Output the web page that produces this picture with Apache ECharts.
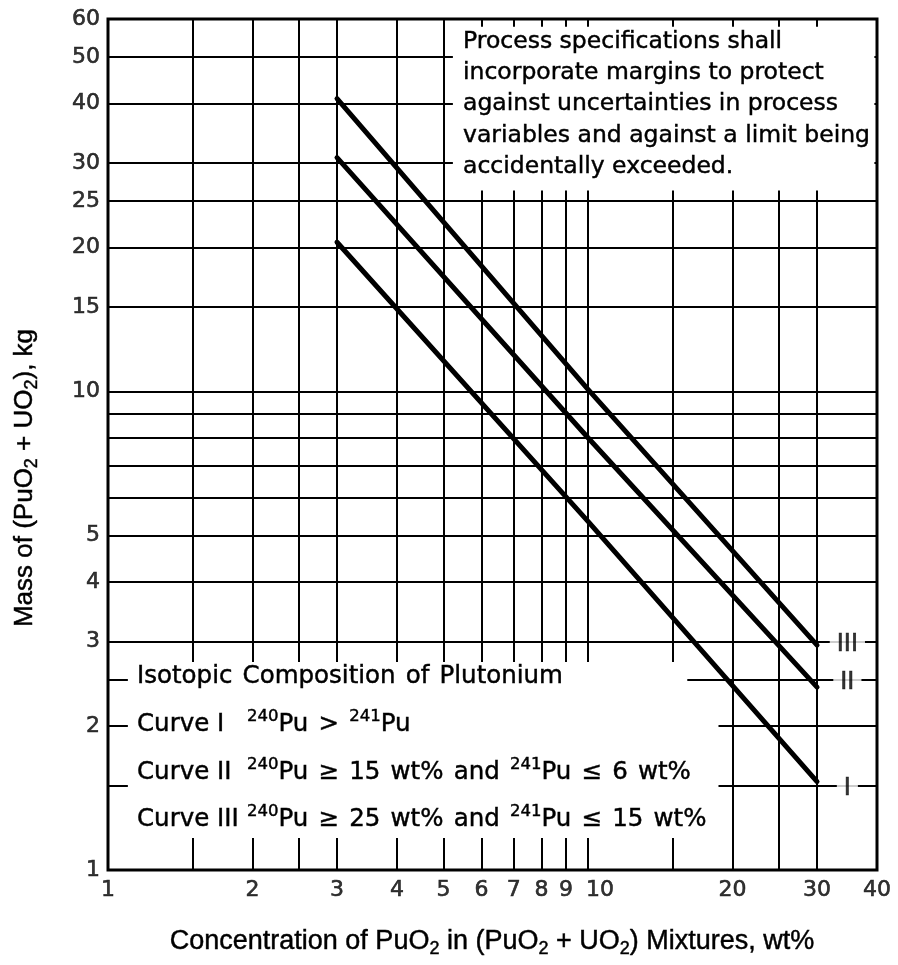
<!DOCTYPE html>
<html>
<head>
<meta charset="utf-8">
<script src="https://cdn.jsdelivr.net/npm/echarts@6/dist/echarts.min.js"></script>
<style>
  html, body { margin: 0; padding: 0; background: #fff; }
  #chart { width: 898px; height: 965px; }
</style>
</head>
<body>
<div id="chart"></div>
<script>
// PuO2 concentrations (wt%) at which the limit curves are read
const concentration = [3, 10, 30];
// Mass limits of (PuO2 + UO2), kg, for each isotopic composition
const curveI = [20.5, 5.35, 1.53];
const curveII = [30.8, 8.0, 2.41];
const curveIII = [40.9, 10.1, 2.95];
const curveNames = ['I', 'II', 'III'];
// grid line values on the log axes
const xGridValues = [1.5, 2, 2.5, 3, 4, 5, 6, 7, 8, 9, 10, 15, 20, 25, 30];
const yGridValues = [1.5, 2, 2.5, 3, 4, 5, 6, 7, 8, 9, 10, 15, 20, 25, 30, 40, 50];
// labelled tick values
const xTickLabels = [1, 2, 3, 4, 5, 6, 7, 8, 9, 10, 20, 30, 40];
const yTickLabels = [1, 2, 3, 4, 5, 10, 15, 20, 25, 30, 40, 50, 60];

const X_MIN = 1, X_MAX = 40, Y_MIN = 1, Y_MAX = 60;
const FONT = '"DejaVu Sans", "Liberation Sans", sans-serif';
const TITLE_FONT = '"Liberation Sans", "DejaVu Sans", sans-serif';
// a thin outline in the text colour gives the heavier print weight
const LABEL_INK = { textBorderColor: '#000', textBorderWidth: 0.6 };
const INK = { stroke: '#000', lineWidth: 0.45 };

// areas (in data units) kept free of grid lines so the notes stay readable
const clearRegions = [
  { x: [5.23, 39.5], y: [26.3, 57.8] },
  { x: [1.10, 16.1], y: [1.166, 2.72] },
  { x: [16.1, 18.7], y: [1.166, 2.3] }
];
// each curve label sits on the grid line next to its curve end
const curveLabelY = [1.5, 2.5, 3];

function cutRange(range, gaps) {
  let segs = [range];
  gaps.forEach(([c, d]) => {
    segs = segs.flatMap(([a, b]) => {
      if (d <= a || c >= b) return [[a, b]];
      const out = [];
      if (c > a) out.push([a, c]);
      if (d < b) out.push([d, b]);
      return out;
    });
  });
  return segs;
}

const gridSegments = [];
xGridValues.forEach(v => {
  const gaps = clearRegions.filter(r => v > r.x[0] && v < r.x[1]).map(r => r.y);
  cutRange([Y_MIN, Y_MAX], gaps).forEach(([a, b]) => gridSegments.push({ coords: [[v, a], [v, b]] }));
});
yGridValues.forEach(v => {
  const gaps = clearRegions.filter(r => v > r.y[0] && v < r.y[1]).map(r => r.x);
  cutRange([X_MIN, X_MAX], gaps).forEach(([a, b]) => gridSegments.push({ coords: [[a, v], [b, v]] }));
});

function curveSeries(values) {
  return {
    type: 'line',
    data: concentration.map((c, i) => [c, values[i]]),
    symbol: 'none',
    lineStyle: { color: '#000', width: 5, cap: 'round' },
    silent: true,
    z: 3
  };
}

const noteLines = [
  'Process specifications shall',
  'incorporate margins to protect',
  'against uncertainties in process',
  'variables and against a limit being',
  'accidentally exceeded.'
];

// {w| } is a slightly wider word space, {s|...} a superscript mass number
const legendLines = [
  'Isotopic{w| }Composition{w| }of{w| }Plutonium',
  '{c|Curve I}{s|240}Pu{w| }>{w| }{s|241}Pu',
  '{c|Curve II}{s|240}Pu{w| }≥{w| }15{w| }wt%{w| }and{w| }{s|241}Pu{w| }≤{w| }6{w| }wt%',
  '{c|Curve III}{s|240}Pu{w| }≥{w| }25{w| }wt%{w| }and{w| }{s|241}Pu{w| }≤{w| }15{w| }wt%'
];
const legendY = [677, 725, 773, 820];
const legendRich = {
  c: Object.assign({ width: 110, fontSize: 24.5, fontFamily: FONT, fill: '#000' }, INK),
  s: Object.assign({ fontSize: 16.5, fontFamily: FONT, verticalAlign: 'top', lineHeight: 5, fill: '#000' }, INK),
  w: { fontSize: 32, fontFamily: FONT, fill: '#000' }
};

const subStyle = Object.assign({ fontSize: 18, fontFamily: TITLE_FONT, verticalAlign: 'bottom', lineHeight: 14, fill: '#000' }, INK);

const chart = echarts.init(document.getElementById('chart'), null, { renderer: 'canvas' });

chart.setOption({
  animation: false,
  backgroundColor: '#fff',
  grid: {
    left: 108, right: 21, top: 19, bottom: 95,
    show: true, borderColor: '#000', borderWidth: 3, backgroundColor: 'transparent'
  },
  xAxis: {
    type: 'log', logBase: 10, min: X_MIN, max: X_MAX,
    axisLine: { show: false }, axisTick: { show: false },
    axisLabel: { show: false }, splitLine: { show: false }
  },
  yAxis: {
    type: 'log', logBase: 10, min: Y_MIN, max: Y_MAX,
    axisLine: { show: false }, axisTick: { show: false },
    axisLabel: { show: false }, splitLine: { show: false }
  },
  series: [
    {
      type: 'lines',
      coordinateSystem: 'cartesian2d',
      data: gridSegments,
      lineStyle: { color: '#000', width: 2, opacity: 1, curveness: 0 },
      silent: true,
      z: 1
    },
    curveSeries(curveI),
    curveSeries(curveII),
    curveSeries(curveIII),
    {
      type: 'scatter',
      data: curveNames.map((n, i) => ({ value: [34.7, curveLabelY[i]], name: n })),
      symbolSize: 0,
      clip: false,
      silent: true,
      z: 5,
      label: Object.assign({
        show: true, position: 'inside', formatter: '{b}',
        fontFamily: FONT, fontSize: 24, color: '#000',
        backgroundColor: '#fff', padding: [2, 7],
        offset: [0, 3]
      }, LABEL_INK)
    },
    {
      type: 'scatter',
      data: xTickLabels.map(v => ({
        value: [v, Y_MIN],
        label: { offset: [v === 10 ? 12 : 0, 20] }
      })),
      symbolSize: 0,
      clip: false,
      silent: true,
      z: 5,
      label: Object.assign({
        show: true, position: 'inside',
        formatter: p => String(p.value[0]),
        fontFamily: FONT, fontSize: 22, color: '#000'
      }, LABEL_INK)
    },
    {
      type: 'scatter',
      data: yTickLabels.map(v => [X_MIN, v]),
      symbolSize: 0,
      clip: false,
      silent: true,
      z: 5,
      label: Object.assign({
        show: true, position: 'left', distance: 8,
        formatter: p => String(p.value[1]),
        fontFamily: FONT, fontSize: 22, color: '#000'
      }, LABEL_INK)
    }
  ],
  graphic: [
    {
      type: 'text', x: 463, y: 26, z: 10,
      style: Object.assign({
        text: noteLines.join('\n'), fontFamily: FONT, fontSize: 23.5,
        lineHeight: 31.3, fill: '#000', align: 'left', verticalAlign: 'top'
      }, INK)
    },
    ...legendLines.map((t, i) => ({
      type: 'text', x: 137, y: legendY[i], z: 10,
      style: Object.assign({
        text: t, fontFamily: FONT, fontSize: 24.5, lineHeight: 34,
        fill: '#000', align: 'left', verticalAlign: 'middle',
        rich: legendRich
      }, INK)
    })),
    {
      type: 'text', x: 492, y: 942, z: 10,
      style: Object.assign({
        text: 'Concentration of PuO{b|2} in (PuO{b|2} + UO{b|2}) Mixtures, wt%',
        fontFamily: TITLE_FONT, fontSize: 27, lineHeight: 32,
        fill: '#000', align: 'center', verticalAlign: 'middle',
        rich: { b: subStyle }
      }, INK)
    },
    {
      type: 'text', x: 25, y: 478, rotation: Math.PI / 2, z: 10,
      style: Object.assign({
        text: 'Mass of (PuO{b|2} + UO{b|2}), kg',
        fontFamily: TITLE_FONT, fontSize: 26, lineHeight: 32,
        fill: '#000', align: 'center', verticalAlign: 'middle',
        rich: { b: subStyle }
      }, INK)
    }
  ]
});
</script>
</body>
</html>
